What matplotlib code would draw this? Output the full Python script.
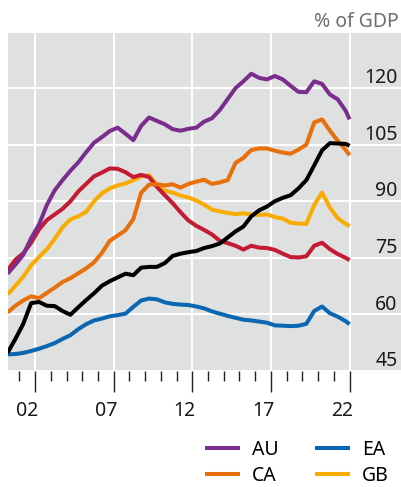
import numpy as np
import matplotlib
matplotlib.use("Agg")
import matplotlib.pyplot as plt

plt.rcParams['font.family'] = ['Noto Sans', 'DejaVu Sans']

# half-yearly observations, last one at end-2022
dates = list(np.arange(2001.25, 2023.0, 0.5)) + [2023.0]

au = [70.8, 73.2, 75.8, 80.2, 83.8, 89.0, 92.9, 95.6, 98.1, 100.3,
      103.0, 105.5, 107.0, 108.6, 109.5, 107.9, 106.2, 110.0, 112.2, 111.3,
      110.4, 109.1, 108.7, 109.2, 109.5, 111.1, 112.0, 114.2, 117.1, 120.0,
      121.8, 123.8, 122.7, 122.3, 123.2, 122.3, 120.6, 119.0, 118.9, 121.8,
      121.1, 118.3, 117.0, 114.0, 111.7]
ca = [60.5, 62.3, 63.7, 64.8, 64.3, 65.7, 67.1, 68.6, 69.6, 70.9,
      72.2, 73.8, 76.3, 79.5, 80.9, 82.3, 85.3, 92.3, 94.4, 94.5,
      94.2, 94.5, 93.6, 94.6, 95.2, 95.7, 94.6, 95.0, 95.6, 100.2,
      101.5, 103.6, 104.0, 104.0, 103.4, 102.9, 102.6, 103.7, 105.0, 110.9,
      111.7, 108.7, 106.0, 103.6, 102.2]
ea = [49.4, 49.5, 49.8, 50.3, 50.9, 51.6, 52.4, 53.5, 54.5, 56.1,
      57.4, 58.4, 58.9, 59.5, 59.8, 60.2, 62.0, 63.7, 64.2, 64.0,
      63.2, 62.8, 62.6, 62.5, 62.1, 61.6, 60.8, 60.2, 59.6, 59.1,
      58.6, 58.4, 58.1, 57.8, 57.1, 57.0, 56.9, 57.0, 57.5, 60.9,
      62.1, 60.3, 59.4, 58.2, 57.4]
gb = [65.3, 67.6, 70.0, 73.0, 75.2, 77.3, 80.0, 83.1, 85.2, 86.0,
      87.2, 90.0, 92.1, 93.4, 94.2, 94.7, 95.6, 96.6, 96.9, 94.3,
      92.8, 92.3, 91.5, 91.0, 90.2, 89.1, 87.8, 87.3, 86.9, 86.6,
      86.8, 86.5, 86.4, 86.5, 85.8, 85.4, 84.3, 84.1, 84.0, 89.0,
      92.3, 88.3, 85.5, 84.0, 83.4]
# two more series without a legend entry
red_series = [71.7, 74.5, 76.2, 79.0, 82.5, 85.0, 86.5, 88.0, 90.0, 92.6,
              94.6, 96.6, 97.6, 98.7, 98.6, 97.7, 96.4, 97.0, 96.4, 93.8,
              91.6, 89.5, 87.1, 84.9, 83.5, 82.4, 81.2, 79.5, 78.9, 78.2,
              77.2, 78.2, 77.7, 77.6, 77.1, 76.1, 75.2, 75.1, 75.4, 78.2,
              79.0, 77.3, 76.0, 75.0, 74.4]
black_series = [49.8, 53.5, 57.5, 63.0, 63.3, 62.3, 62.2, 60.9, 59.9, 61.9,
                63.8, 65.6, 67.6, 68.8, 69.8, 70.8, 70.4, 72.4, 72.6, 72.6,
                73.6, 75.5, 76.1, 76.5, 76.8, 77.6, 78.1, 78.8, 80.4, 82.0,
                83.3, 86.0, 87.6, 88.6, 90.0, 90.9, 91.6, 93.4, 95.6, 99.5,
                103.5, 105.4, 105.3, 105.2, 104.7]

y_ticks = [45, 60, 75, 90, 105, 120]
x_labels = ['02', '07', '12', '17', '22']
label_years = [2002.5, 2007.5, 2012.5, 2017.5, 2022.5]

COLORS = {
    'AU': '#7B2D8E',
    'CA': '#E8700A',
    'EA': '#0B67B2',
    'GB': '#F8AB00',
    'red': '#C41A34',
    'black': '#000000',
}

fig = plt.figure(figsize=(4.01, 4.87), dpi=100)
ax = fig.add_axes([8 / 401, 1 - 371 / 487, 1 - 8 / 401, (371 - 33) / 487])
ax.set_facecolor('#DFE0E0')
for s in ax.spines.values():
    s.set_visible(False)

ax.set_xlim(2001.28, 2026.27)
ax.set_ylim(45, 134.6)

lw = 2.9
ax.plot(dates, ea, color=COLORS['EA'], lw=lw, label='EA', solid_capstyle='butt')
ax.plot(dates, gb, color=COLORS['GB'], lw=lw, label='GB', solid_capstyle='butt')
ax.plot(dates, red_series, color=COLORS['red'], lw=lw, solid_capstyle='butt')
ax.plot(dates, ca, color=COLORS['CA'], lw=lw, label='CA', solid_capstyle='butt')
ax.plot(dates, black_series, color=COLORS['black'], lw=lw, solid_capstyle='butt')
ax.plot(dates, au, color=COLORS['AU'], lw=lw, label='AU', solid_capstyle='butt')

# white grid: horizontal at value ticks, vertical every five years
for v in y_ticks:
    ax.axhline(v, color='white', lw=1.5, zorder=0.5)
for yr in range(2003, 2024, 5):
    ax.axvline(yr, color='white', lw=1.5, zorder=0.5)

# value labels sit inside the plot, right aligned above each grid line
ax.set_yticks([])
for v in y_ticks:
    ax.annotate(str(v), xy=(1, v), xycoords=('axes fraction', 'data'),
                xytext=(-2.5, 3.5), textcoords='offset points',
                ha='right', va='baseline', fontsize=14, color='#1a1a1a')

# long ticks every five years, short ticks every year
ax.set_xticks(range(2003, 2024, 5))
ax.set_xticks([y for y in range(2002, 2023) if (y - 2003) % 5], minor=True)
ax.tick_params(axis='x', which='major', length=15, width=1.0, color='#222222',
               labelbottom=False, pad=1)
ax.tick_params(axis='x', which='minor', length=7.5, width=1.0, color='#222222')
for yr, lab in zip(label_years, x_labels):
    ax.annotate(lab, xy=(yr, 0), xycoords=('data', 'axes fraction'),
                xytext=(0, -21.5), textcoords='offset points',
                ha='center', va='top', fontsize=14, color='#1a1a1a')

fig.text(399 / 401, 1 - 27 / 487, '% of GDP', ha='right', va='baseline',
         fontsize=14, color='#6e6e6e')

handles, labels = ax.get_legend_handles_labels()
order = [labels.index(k) for k in ['AU', 'CA', 'EA', 'GB']]
fig.legend([handles[i] for i in order], [labels[i] for i in order],
           ncol=2, loc='upper left', bbox_to_anchor=(205 / 401, 1 - 440 / 487),
           frameon=False, fontsize=14, handlelength=1.8, handletextpad=0.6,
           columnspacing=1.9, labelspacing=0.3, borderpad=0, borderaxespad=0)

fig.savefig('out.png', dpi=100)
